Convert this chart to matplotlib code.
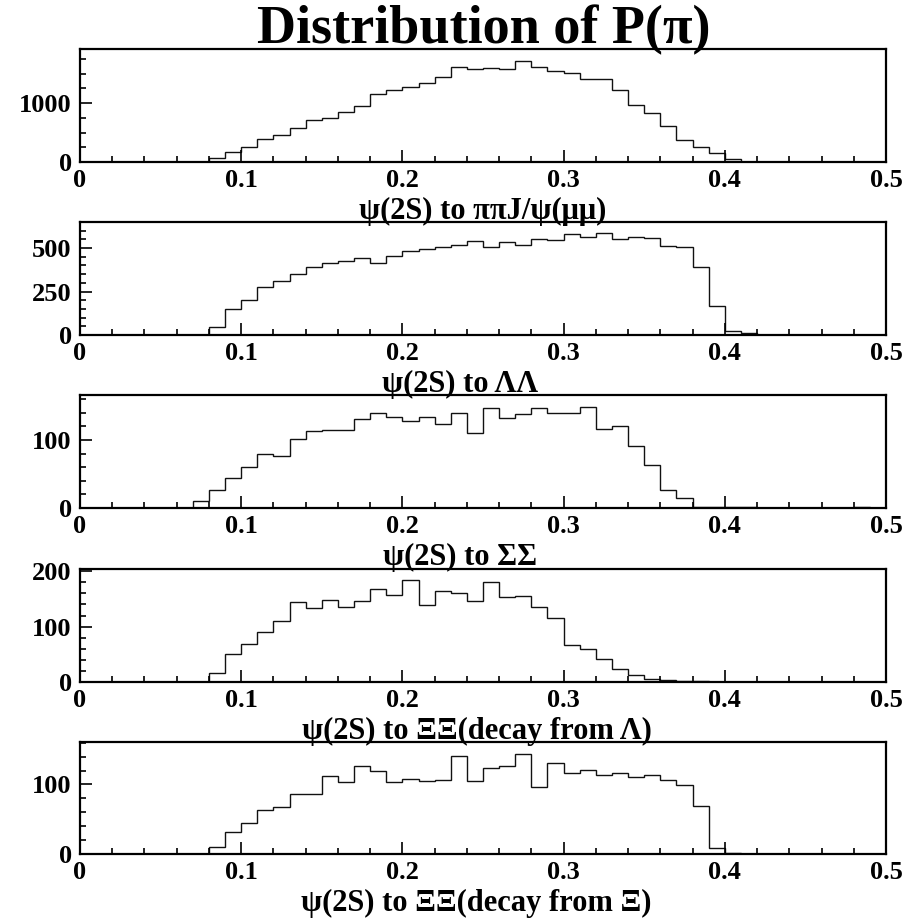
import numpy as np
import matplotlib
matplotlib.use("Agg")
import matplotlib.pyplot as plt
from matplotlib.ticker import MultipleLocator

plt.rcParams['font.family'] = ['Liberation Serif', 'DejaVu Serif']
plt.rcParams['font.weight'] = 'bold'

# 50 bins of width 0.01 between 0 and 0.5
edges = np.linspace(0, 0.5, 51)

jpsi = [0, 0, 0, 0, 0, 0, 0, 0, 68, 170,
        261, 398, 455, 580, 722, 756, 847, 955, 1148, 1216,
        1273, 1347, 1449, 1619, 1585, 1591, 1574, 1716, 1619, 1545,
        1506, 1403, 1403, 1222, 966, 835, 608, 381, 256, 153,
        57, 5, 0, 0, 0, 0, 0, 0, 0, 0]
lambdas = [0, 0, 0, 0, 0, 0, 0, 0, 46, 150,
           200, 275, 313, 352, 390, 417, 425, 442, 417, 452,
           485, 494, 504, 519, 538, 504, 533, 519, 552, 548,
           581, 562, 585, 554, 565, 556, 510, 504, 390, 169,
           25, 10, 0, 0, 0, 0, 0, 0, 0, 0]
sigmas = [0, 0, 0, 0, 0, 0, 0, 11, 27, 44,
          60, 79, 77, 101, 113, 114, 114, 131, 139, 133,
          128, 134, 123, 139, 110, 147, 132, 138, 147, 140,
          139, 149, 116, 121, 91, 63, 27, 15, 2, 1,
          1, 1, 0, 0, 0, 0, 0, 0, 1, 0]
xi_lambda = [0, 0, 0, 0, 0, 0, 0, 0, 16, 50,
             68, 91, 110, 144, 133, 148, 136, 147, 168, 157,
             184, 139, 164, 160, 147, 180, 153, 156, 135, 116,
             67, 59, 41, 24, 12, 5, 4, 2, 2, 0,
             0, 0, 0, 0, 0, 0, 0, 0, 0, 0]
xi_xi = [0, 0, 0, 0, 0, 0, 0, 0, 10, 32,
         45, 63, 68, 86, 86, 112, 103, 127, 120, 104,
         108, 105, 107, 141, 105, 124, 127, 144, 97, 131,
         117, 121, 114, 117, 111, 113, 107, 99, 69, 9,
         2, 0, 0, 0, 0, 0, 0, 0, 0, 0]

series = [jpsi, lambdas, sigmas, xi_lambda, xi_xi]
labels = ["ψ(2S) to ππJ/ψ(μμ)", "ψ(2S) to ΛΛ", "ψ(2S) to ΣΣ",
          "ψ(2S) to ΞΞ(decay from Λ)", "ψ(2S) to ΞΞ(decay from Ξ)"]
ymax = [1920, 650, 166, 204, 161]
ymajor = [1000, 250, 100, 100, 100]
yminor = [250, 50, 20, 20, 20]

W, H = 916, 918
fig = plt.figure(figsize=(W / 100, H / 100), dpi=100)

# panel pixel layout: top, bottom
tops = [49, 222, 395, 569, 742]
bottoms = [162, 335, 508, 682, 854]
label_x = [483, 460, 460, 477, 476]
left, right = 80, 886

fig.text(484 / W, 1 - 43 / H, "Distribution of P(π)", ha='center',
         va='baseline', fontsize=39, fontweight='bold')

for k in range(5):
    ax = fig.add_axes([left / W, 1 - bottoms[k] / H, (right - left) / W,
                       (bottoms[k] - tops[k]) / H])
    ax.stairs(series[k], edges, color='#111111', linewidth=1.0)
    ax.set_xlim(0, 0.5)
    ax.set_ylim(0, ymax[k])
    ax.xaxis.set_major_locator(MultipleLocator(0.1))
    ax.xaxis.set_minor_locator(MultipleLocator(0.02))
    ax.yaxis.set_major_locator(MultipleLocator(ymajor[k]))
    ax.yaxis.set_minor_locator(MultipleLocator(yminor[k]))
    ax.xaxis.set_major_formatter(plt.FuncFormatter(
        lambda v, p: "0" if abs(v) < 1e-9 else ("%.1f" % v)))
    ax.tick_params(which='both', direction='in', top=False, right=False,
                   width=1.2, labelsize=19)
    ax.tick_params(which='major', length=8.5)
    ax.tick_params(which='minor', length=4.3)
    ax.tick_params(axis='x', pad=5)
    ax.tick_params(axis='y', pad=6)
    for lab in ax.get_xticklabels() + ax.get_yticklabels():
        lab.set_fontweight('bold')
    for s in ax.spines.values():
        s.set_linewidth(1.6)
    fig.text(label_x[k] / W, 1 - (bottoms[k] + 57) / H, labels[k],
             ha='center', va='baseline', fontsize=22, fontweight='bold')

fig.savefig("out.png", dpi=100)
